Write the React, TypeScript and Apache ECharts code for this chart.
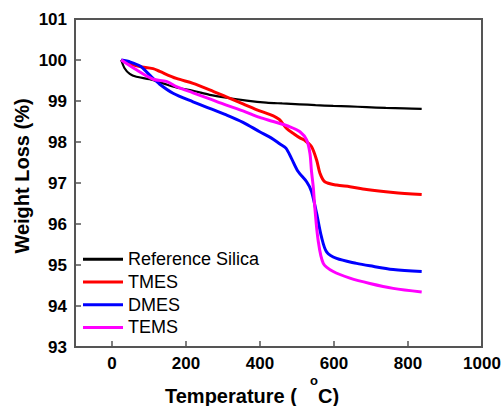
import React, { useEffect, useRef } from "react";
import * as echarts from "echarts";

const xTicks = [0, 200, 400, 600, 800, 1000];

const refT = [25, 34, 48, 66, 102, 138, 174, 219, 264, 309, 364, 417, 460, 507, 550, 598, 640, 688, 740, 790, 837];
const refW = [100.0, 99.8, 99.66, 99.59, 99.53, 99.43, 99.33, 99.25, 99.15, 99.08, 99.01, 98.96, 98.94, 98.92, 98.9, 98.88, 98.87, 98.85, 98.83, 98.82, 98.81];

const tmesT = [25, 50, 75, 111, 129, 174, 219, 264, 309, 354, 399, 436, 452, 472, 490, 508, 521, 539, 553, 562, 575, 607, 643, 688, 760, 837];
const tmesW = [100.0, 99.9, 99.84, 99.79, 99.72, 99.55, 99.43, 99.27, 99.1, 98.93, 98.76, 98.64, 98.55, 98.33, 98.21, 98.1, 98.04, 97.89, 97.56, 97.24, 97.03, 96.95, 96.91, 96.84, 96.77, 96.72];

const dmesT = [25, 50, 78, 102, 129, 165, 219, 264, 309, 354, 399, 430, 454, 470, 485, 503, 526, 539, 553, 566, 580, 607, 661, 697, 760, 837];
const dmesW = [100.0, 99.95, 99.84, 99.63, 99.41, 99.19, 98.98, 98.82, 98.66, 98.48, 98.25, 98.1, 97.95, 97.85, 97.6, 97.28, 97.03, 96.8, 96.26, 95.69, 95.32, 95.16, 95.04, 94.98, 94.89, 94.84];

const temsT = [25, 66, 111, 147, 174, 219, 264, 309, 354, 399, 436, 481, 508, 526, 535, 539, 544, 548, 557, 571, 598, 643, 697, 760, 837];
const temsW = [100.0, 99.76, 99.53, 99.48, 99.35, 99.2, 99.05, 98.9, 98.76, 98.6, 98.5, 98.37, 98.25, 98.05, 97.72, 97.3, 96.9, 96.42, 95.61, 95.04, 94.84, 94.68, 94.55, 94.43, 94.34];

const seriesNames = ["Reference Silica", "TMES", "DMES", "TEMS"];
const seriesColors = ["#000000", "#ff0000", "#0000ff", "#ff00ff"];

const zip = (t: number[], w: number[]) => t.map((v, i) => [v, w[i]]);

export default function App() {
  const ref = useRef<HTMLDivElement>(null);
  useEffect(() => {
    if (!ref.current) return;
    const chart = echarts.init(ref.current, null, { renderer: "svg" });
    const datasets = [zip(refT, refW), zip(tmesT, tmesW), zip(dmesT, dmesW), zip(temsT, temsW)];
    const font = "Arial, 'Liberation Sans', sans-serif";
    chart.setOption({
      animation: false,
      grid: {
        left: 75,
        right: 22,
        top: 19,
        bottom: 59,
        show: true,
        borderColor: "#555",
        borderWidth: 2,
      },
      legend: {
        orient: "vertical",
        left: 78,
        top: 243,
        icon: "rect",
        itemWidth: 40,
        itemHeight: 3,
        itemGap: 0,
        data: seriesNames,
        textStyle: { fontFamily: font, fontSize: 18, color: "#000", lineHeight: 22.7 },
      },
      xAxis: {
        type: "value",
        min: -100,
        max: 1000,
        axisLine: { show: true, onZero: false, lineStyle: { color: "#555", width: 2 } },
        axisTick: { show: true, inside: true, length: 6, customValues: xTicks, lineStyle: { color: "#555", width: 1.5 } },
        axisLabel: {
          customValues: xTicks,
          showMaxLabel: true,
          margin: 8,
          formatter: (v: number) => String(v),
          fontFamily: font,
          fontWeight: "bold",
          fontSize: 17,
          color: "#000",
        },
        splitLine: { show: false },
      },
      yAxis: {
        type: "value",
        min: 93,
        max: 101,
        interval: 1,
        axisLine: { show: true, onZero: false, lineStyle: { color: "#555", width: 2 } },
        axisTick: { show: true, inside: true, length: 6, lineStyle: { color: "#555", width: 1.5 } },
        axisLabel: {
          margin: 8,
          fontFamily: font,
          fontWeight: "bold",
          fontSize: 17,
          color: "#000",
        },
        splitLine: { show: false },
      },
      series: datasets.map((d, i) => ({
        name: seriesNames[i],
        type: "line",
        data: d,
        showSymbol: false,
        symbol: "none",
        smooth: 0.3,
        color: seriesColors[i],
        lineStyle: { color: seriesColors[i], width: i === 0 ? 2.2 : 3 },
      })),
      graphic: [
        {
          type: "text",
          x: 22,
          y: 176,
          rotation: Math.PI / 2,
          style: {
            text: "Weight Loss (%)",
            font: `bold 20px ${font}`,
            fill: "#000",
            textAlign: "center",
            textVerticalAlign: "middle",
          },
        },
        {
          type: "text",
          x: 165,
          y: 396,
          style: {
            text: "Temperature (",
            font: `bold 20px ${font}`,
            fill: "#000",
            textAlign: "left",
            textVerticalAlign: "middle",
          },
        },
        {
          type: "text",
          x: 314,
          y: 380,
          style: {
            text: "o",
            font: `bold 13px ${font}`,
            fill: "#000",
            textAlign: "center",
            textVerticalAlign: "middle",
          },
        },
        {
          type: "text",
          x: 318,
          y: 396,
          style: {
            text: "C)",
            font: `bold 20px ${font}`,
            fill: "#000",
            textAlign: "left",
            textVerticalAlign: "middle",
          },
        },
      ],
    });
    return () => chart.dispose();
  }, []);
  return <div ref={ref} style={{ width: 504, height: 406, position: "absolute", left: 0, top: 0 }} />;
}
